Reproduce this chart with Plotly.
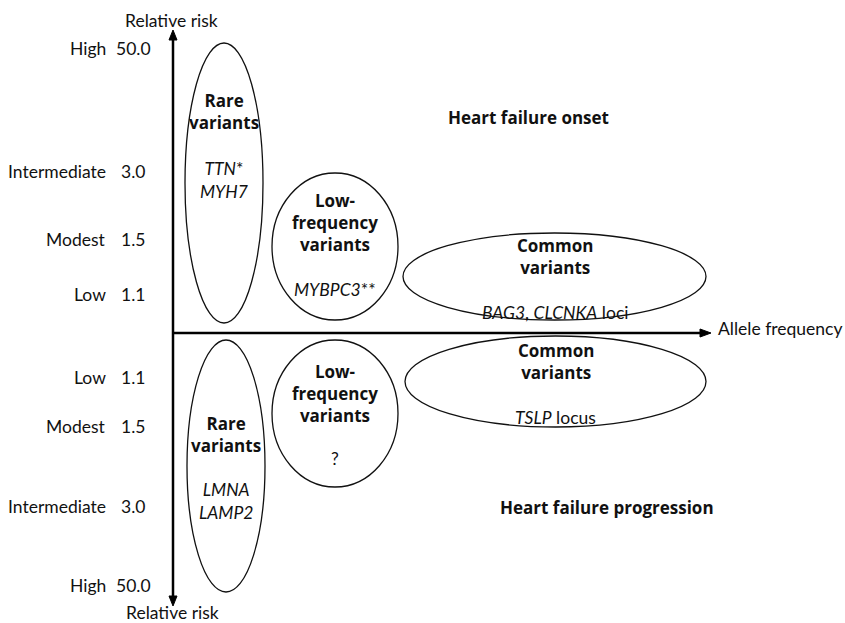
import plotly.graph_objects as go

# ---- content (data) ----
risk_levels = ["High", "Intermediate", "Modest", "Low"]
risk_values = ["50.0", "3.0", "1.5", "1.1"]
onset_groups = ["Rare<br>variants", "Low-<br>frequency<br>variants", "Common<br>variants"]
onset_genes = ["<i>TTN</i>*<br><i>MYH7</i>", "<i>MYBPC3</i>**", "<i>BAG3</i>, <i>CLCNKA</i> loci"]
prog_groups = ["Rare<br>variants", "Low-<br>frequency<br>variants", "Common<br>variants"]
prog_genes = ["<i>LMNA</i><br><i>LAMP2</i>", "?", "<i>TSLP</i> locus"]
panel_titles = ["Heart failure onset", "Heart failure progression"]
axis_titles = ["Relative risk", "Allele frequency"]

# ---- geometry (layout in pixel-like coordinates) ----
W, H = 845, 623
axis_x, axis_y = 173, 333
tick_y_top = [48, 171, 239, 294]
tick_y_bot = [585, 506, 426, 377]
onset_ell = [(185, 263, 43, 323), (272, 398, 173, 320), (403, 706, 233, 320)]
prog_ell = [(187, 265, 340, 592), (272, 398, 340, 487), (405, 706, 336, 427)]
onset_group_y = [111, 222, 256]
onset_gene_y = [180, 289, 312]
prog_group_y = [434, 393, 361]
prog_gene_y = [501, 458, 417]
FONT = "Lato, 'Open Sans', sans-serif"
BFONT = "'Open Sans', Lato, sans-serif"
FS = 17.5
TXT = "#111111"

fig = go.Figure()
fig.add_trace(go.Scatter(x=[0, W], y=[0, H], mode="markers",
                         marker=dict(opacity=0), hoverinfo="skip", showlegend=False))

shapes = []
# axes lines
shapes.append(dict(type="line", x0=axis_x, x1=axis_x, y0=38, y1=598,
                   line=dict(color="black", width=2.5)))
shapes.append(dict(type="line", x0=axis_x, x1=703, y0=axis_y, y1=axis_y,
                   line=dict(color="black", width=2.5)))
# arrowheads
shapes.append(dict(type="path", path=f"M {axis_x-4},40 L {axis_x},30 L {axis_x+4},40 Z",
                   fillcolor="black", line=dict(color="black", width=1)))
shapes.append(dict(type="path", path=f"M {axis_x-4},596 L {axis_x},606 L {axis_x+4},596 Z",
                   fillcolor="black", line=dict(color="black", width=1)))
shapes.append(dict(type="path", path=f"M 700,{axis_y-4} L 711,{axis_y} L 700,{axis_y+4} Z",
                   fillcolor="black", line=dict(color="black", width=1)))
# ellipses
for (x0, x1, y0, y1) in onset_ell + prog_ell:
    shapes.append(dict(type="circle", x0=x0, x1=x1, y0=y0, y1=y1,
                       line=dict(color="#111111", width=1.3), fillcolor="rgba(0,0,0,0)"))

ann = []
def txt(x, y, s, xanchor="center", size=FS, family=FONT):
    ann.append(dict(x=x, y=y, text=s, showarrow=False, xanchor=xanchor, yanchor="middle",
                    font=dict(family=family, size=size, color=TXT), align="center"))

def btxt(x, y, s, size=17):
    txt(x, y, f"<b>{s}</b>", size=size, family=BFONT)

# risk tick labels
for lab, val, y in zip(risk_levels, risk_values, tick_y_top):
    txt(108, y, lab, xanchor="right")
    txt(133, y, val)
for lab, val, y in zip(risk_levels, risk_values, tick_y_bot):
    txt(108, y, lab, xanchor="right")
    txt(133, y, val)

# axis titles
txt(171, 20, axis_titles[0])
txt(172, 612, axis_titles[0])
txt(716, 328, axis_titles[1], xanchor="left")

# groups in ellipses
for (x0, x1, y0, y1), g, gy, gene, gey in zip(onset_ell, onset_groups, onset_group_y, onset_genes, onset_gene_y):
    cx = (x0 + x1) / 2
    btxt(cx, gy, g)
    txt(cx, gey, gene)
for (x0, x1, y0, y1), g, gy, gene, gey in zip(prog_ell, prog_groups, prog_group_y, prog_genes, prog_gene_y):
    cx = (x0 + x1) / 2
    btxt(cx, gy, g)
    txt(cx, gey, gene)

# panel titles
btxt(528, 117, panel_titles[0])
btxt(607, 507, panel_titles[1])

fig.update_layout(
    width=W, height=H, margin=dict(l=0, r=0, t=0, b=0),
    paper_bgcolor="white", plot_bgcolor="white",
    xaxis=dict(range=[0, W], visible=False, fixedrange=True),
    yaxis=dict(range=[H, 0], visible=False, fixedrange=True),
    shapes=shapes, annotations=ann, showlegend=False,
)
fig.write_html("out.html", config={"displayModeBar": False},
               post_script="document.body.style.margin='0';document.body.style.overflow='hidden';")
